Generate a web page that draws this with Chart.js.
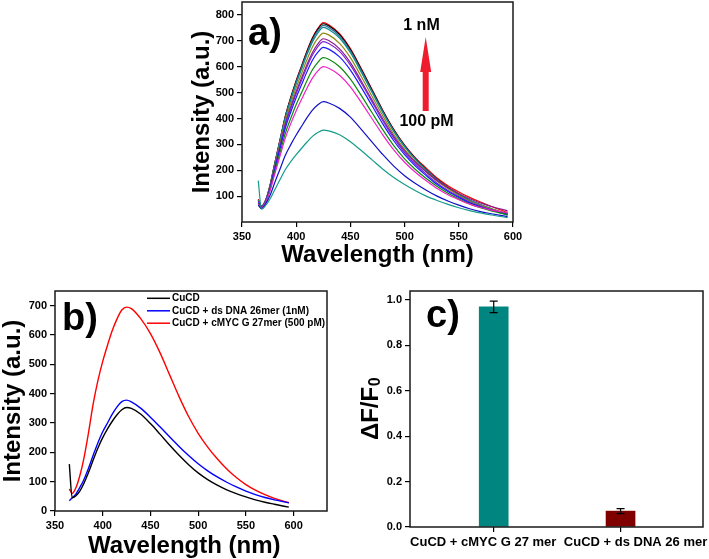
<!DOCTYPE html>
<html><head><meta charset="utf-8">
<script src="https://cdn.jsdelivr.net/npm/chart.js@4.4.0/dist/chart.umd.min.js"></script>
<style>
html,body{margin:0;padding:0;background:#fff;}
body{width:709px;height:559px;position:relative;overflow:hidden;}
canvas{position:absolute;}
</style></head><body>
<canvas id="ca" width="560" height="270" style="left:0;top:0"></canvas>
<canvas id="cb" width="360" height="269" style="left:0;top:290px"></canvas>
<canvas id="cc" width="349" height="269" style="left:360px;top:290px"></canvas>
<script>
// ---------- data ----------
const wavelengths = [365,368,372,376,380,385,390,395,400,405,410,415,420,425,430,440,450,460,470,480,490,500,510,520,530,540,550,560,570,580,595];

// panel a: titration spectra (100 pM -> 1 nM)
const specA1  = [160,50,65,90,123,163,203,233,260,285,309,331,346,355,352,337,310,276,240,204,172,145,121,100,83,68,55,44,35,27,17];
const specA2  = [65,52,71,104,150,204,258,299,336,370,403,432,453,465,460,439,405,358,309,260,216,179,149,123,100,81,65,51,40,32,21];
const specA3  = [70,55,78,122,182,254,325,380,430,474,518,556,584,600,594,567,522,462,399,336,279,231,192,159,129,105,86,69,56,46,35];
const specA4  = [72,56,79,126,190,266,343,401,454,500,547,588,617,635,629,600,552,489,422,356,295,244,203,168,137,111,89,70,55,43,29];
const specA5  = [75,57,81,131,200,281,363,425,481,531,581,625,656,675,668,638,587,520,449,378,314,260,216,179,145,118,95,74,59,46,30];
const specA6  = [78,58,82,134,205,289,374,438,496,548,600,645,678,697,690,659,606,537,464,390,324,268,223,185,150,122,98,77,61,47,32];
const specA7  = [80,58,83,136,208,293,379,445,504,557,609,655,688,708,701,669,616,545,471,397,331,275,231,194,160,133,110,90,74,60,43];
const specA8  = [82,59,84,138,213,302,390,458,519,574,628,676,710,730,723,690,635,562,485,409,339,281,234,193,157,128,102,80,64,50,33];
const specA9  = [84,60,85,141,218,310,401,471,534,591,647,696,731,752,744,711,654,579,500,421,350,290,241,199,162,131,105,82,64,48,26];
const specA10 = [85,60,86,142,220,313,405,476,540,597,654,703,739,760,752,718,661,585,505,426,353,293,243,201,163,133,107,85,67,52,31];
const specA11 = [86,60,86,143,222,315,408,480,544,601,659,709,745,766,758,724,666,590,509,429,356,295,245,203,165,134,107,84,66,50,27];
const specA12 = [88,61,86,144,223,316,410,482,547,604,662,712,748,770,762,728,670,593,512,431,358,297,248,208,170,140,116,95,77,60,37];
const seriesA = [specA1,specA2,specA3,specA4,specA5,specA6,specA7,specA8,specA9,specA10,specA11,specA12];
const colorsA = ['#169c8a','#1010c8','#f020c8','#0a8a0a','#1a1aff','#7b22d6','#8a1a8a','#8c8a10','#0e8c8c','#3a6f9a','#000000','#ff0000'];
const xTicksA = [350,400,450,500,550,600];
const yTicksA = [100,200,300,400,500,600,700,800];

// panel b
const labelsB = ['CuCD','CuCD + ds DNA 26mer (1nM)','CuCD + cMYC G 27mer (500 pM)'];
const specB_CuCD = [160,45,52,68,92,130,174,215,250,280,306,328,345,353,350,330,298,262,225,190,158,130,107,88,72,59,48,38,30,23,13];
const specB_ds   = [35,45,58,80,105,145,190,233,270,300,330,355,373,378,372,350,320,287,253,220,189,161,137,116,98,82,68,56,46,38,28];
const specB_cMYC = [75,60,80,120,175,265,365,445,510,565,615,655,685,695,690,655,605,540,465,390,322,265,218,178,143,114,90,71,56,43,28];
const seriesB = [specB_CuCD, specB_ds, specB_cMYC];
const colorsB = ['#000000','#0000ff','#ff0000'];
const xTicksB = [350,400,450,500,550,600];
const yTicksB = [0,100,200,300,400,500,600,700];

// panel c
const catsC = ['CuCD + cMYC G 27 mer','CuCD + ds DNA 26 mer'];
const valsC = [0.97, 0.07];
const errC  = [0.025, 0.011];
const colorsC = ['#008580','#800000'];
const yTicksC = [0,0.2,0.4,0.6,0.8,1.0];
const yTitleC = ['ΔF/F', '0'];   // main text + subscript

// ---------- styling ----------
const FONT = '"Liberation Sans", Arial, Helvetica, sans-serif';
Chart.defaults.font.family = FONT;
Chart.defaults.font.weight = 'bold';
Chart.defaults.color = '#000';

const framePlugin = {
  id: 'frame',
  afterDraw(chart) {
    const {ctx, chartArea: a} = chart;
    ctx.save();
    ctx.strokeStyle = '#1a1a1a';
    ctx.lineWidth = 1.5;
    ctx.strokeRect(a.left, a.top, a.right - a.left, a.bottom - a.top);
    ctx.restore();
  }
};

function axisX(min, max, ticks, h, title) {
  return {
    type: 'linear', min, max, offset: false,
    afterBuildTicks: s => { s.ticks = ticks.map(v => ({value: v})); },
    afterFit: s => { s.height = h; s.paddingLeft = 0; s.paddingRight = 0; },
    ticks: {font: {size: 11, weight: 'bold'}, padding: 3, color: '#000', maxRotation: 0, autoSkip: false},
    grid: {drawOnChartArea: false, drawTicks: true, tickLength: 5, color: '#000', lineWidth: 1.2, offset: false},
    border: {display: false},
    title: title ? {display: true, text: title, color: '#000', font: {size: 24, weight: 'bold', lineHeight: 1}, padding: 0} : {display: false}
  };
}
function axisY(min, max, ticks, w, title, titleLH, fmt) {
  return {
    type: 'linear', min, max,
    afterBuildTicks: s => { s.ticks = ticks.map(v => ({value: v})); },
    afterFit: s => { s.width = w; s.paddingTop = 0; s.paddingBottom = 0; },
    ticks: {font: {size: 11, weight: 'bold'}, padding: 3, color: '#000', callback: fmt || (v => String(v))},
    grid: {drawOnChartArea: false, drawTicks: true, tickLength: 5, color: '#000', lineWidth: 1.2},
    border: {display: false},
    title: title ? {display: true, text: title, color: '#000', font: {size: 24, weight: 'bold', lineHeight: titleLH}, padding: 0} : {display: false}
  };
}
function baseOptions(pad) {
  return {
    responsive: false, animation: false, devicePixelRatio: 1,
    layout: {padding: pad},
    plugins: {legend: {display: false}, tooltip: {enabled: false}},
    elements: {point: {radius: 0}, line: {borderWidth: 1.2, cubicInterpolationMode: 'monotone'}}
  };
}

// ---------- panel a ----------
const annotA = {
  id: 'annotA',
  afterDraw(chart) {
    const ctx = chart.ctx;
    ctx.save();
    ctx.fillStyle = '#000';
    ctx.textBaseline = 'alphabetic'; ctx.textAlign = 'left';
    ctx.font = 'bold 38px ' + FONT;
    ctx.fillText('a)', 248, 45);
    ctx.font = 'bold 16px ' + FONT;
    ctx.textAlign = 'center'; ctx.textBaseline = 'middle';
    ctx.fillText('1 nM', 421.5, 26);
    ctx.fillText('100 pM', 426.5, 122);
    ctx.fillStyle = '#ef1c2f';
    ctx.beginPath();
    ctx.moveTo(425.7, 37); ctx.lineTo(431.2, 72); ctx.lineTo(428.7, 72); ctx.lineTo(428.7, 111);
    ctx.lineTo(422.7, 111); ctx.lineTo(422.7, 72); ctx.lineTo(420.2, 72); ctx.closePath();
    ctx.fill();
    ctx.restore();
  }
};
const optA = baseOptions({left: 190, top: 2, right: 47, bottom: 3});
optA.scales = {
  x: axisX(350, 600, xTicksA, 45, 'Wavelength (nm)'),
  y: axisY(0, 850, yTicksA, 52, 'Intensity (a.u.)', 1)
};
new Chart(document.getElementById('ca'), {
  type: 'line',
  data: {datasets: seriesA.map((s, k) => ({
    data: wavelengths.map((w, i) => ({x: w, y: s[i]})),
    borderColor: colorsA[k], borderWidth: 1.2, fill: false
  }))},
  options: optA,
  plugins: [framePlugin, annotA]
});

// ---------- panel b ----------
const annotB = {
  id: 'annotB',
  afterDraw(chart) {
    const ctx = chart.ctx;
    ctx.save();
    ctx.fillStyle = '#000';
    ctx.textAlign = 'left'; ctx.textBaseline = 'alphabetic';
    ctx.font = 'bold 38px ' + FONT;
    ctx.fillText('b)', 62, 40);
    // legend
    ctx.font = 'bold 10px ' + FONT;
    ctx.textBaseline = 'middle';
    const rows = [8.3, 20.8, 33.2];
    chart.data.datasets.forEach((ds, i) => {
      ctx.strokeStyle = ds.borderColor; ctx.lineWidth = 1.5;
      ctx.beginPath(); ctx.moveTo(147, rows[i]); ctx.lineTo(170, rows[i]); ctx.stroke();
      ctx.fillStyle = '#000';
      ctx.fillText(ds.label, 172, rows[i]);
    });
    ctx.restore();
  }
};
const optB = baseOptions({left: 1, top: 1, right: 33, bottom: 1});
optB.scales = {
  x: axisX(350, 635, xTicksB, 47, 'Wavelength (nm)  '),
  y: axisY(0, 750, yTicksB, 54, 'Intensity (a.u.)', 1)
};
new Chart(document.getElementById('cb'), {
  type: 'line',
  data: {datasets: seriesB.map((s, k) => ({
    label: labelsB[k],
    data: wavelengths.map((w, i) => ({x: w, y: s[i]})),
    borderColor: colorsB[k], borderWidth: 1.4, fill: false
  }))},
  options: optB,
  plugins: [framePlugin, annotB]
});

// ---------- panel c ----------
const catShift = [-10.5, 15];
const annotC = {
  id: 'annotC',
  afterDatasetsDraw(chart) {
    const ctx = chart.ctx, xs = chart.scales.x, ys = chart.scales.y;
    ctx.save();
    ctx.strokeStyle = '#000'; ctx.lineWidth = 1.2;
    valsC.forEach((v, i) => {
      const x = xs.getPixelForValue(i);
      const yt = ys.getPixelForValue(v + errC[i]);
      const yb = ys.getPixelForValue(v - errC[i]);
      ctx.beginPath();
      ctx.moveTo(x, yt); ctx.lineTo(x, yb);
      ctx.moveTo(x - 4, yt); ctx.lineTo(x + 4, yt);
      ctx.moveTo(x - 4, yb); ctx.lineTo(x + 4, yb);
      ctx.stroke();
    });
    ctx.restore();
  },
  afterDraw(chart) {
    const ctx = chart.ctx, xs = chart.scales.x, ys = chart.scales.y;
    ctx.save();
    ctx.fillStyle = '#000';
    ctx.textAlign = 'left'; ctx.textBaseline = 'alphabetic';
    ctx.font = 'bold 38px ' + FONT;
    ctx.fillText('c)', 66, 37);
    ctx.font = 'bold 13px ' + FONT;
    ctx.textAlign = 'center'; ctx.textBaseline = 'middle';
    catsC.forEach((c, i) => ctx.fillText(c, xs.getPixelForValue(i) + catShift[i], 252));
    // y-axis title with subscript
    ctx.textAlign = 'left'; ctx.textBaseline = 'alphabetic';
    ctx.font = 'bold 24px ' + FONT;
    const wMain = ctx.measureText(yTitleC[0]).width;
    ctx.font = 'bold 16px ' + FONT;
    const wSub = ctx.measureText(yTitleC[1]).width;
    const cy = (ys.top + ys.bottom) / 2;
    ctx.translate(18, cy + (wMain + wSub) / 2);
    ctx.rotate(-Math.PI / 2);
    ctx.font = 'bold 24px ' + FONT;
    ctx.fillText(yTitleC[0], 0, 0);
    ctx.font = 'bold 16px ' + FONT;
    ctx.fillText(yTitleC[1], wMain + 0.5, 2);
    ctx.restore();
  }
};
const optC = baseOptions({left: 0, top: 1, right: 6, bottom: 0});
const xC = axisX(-0.66, 1.65, [0, 1], 32, null);
xC.ticks.callback = () => '';
optC.scales = {
  x: xC,
  y: axisY(0, 1.04, yTicksC, 50, null, 1, v => v.toFixed(1))
};
new Chart(document.getElementById('cc'), {
  type: 'bar',
  data: {datasets: [{
    data: valsC.map((v, i) => ({x: i, y: v})),
    backgroundColor: colorsC, borderWidth: 0, barThickness: 29
  }]},
  options: optC,
  plugins: [framePlugin, annotC]
});
</script>
</body></html>
